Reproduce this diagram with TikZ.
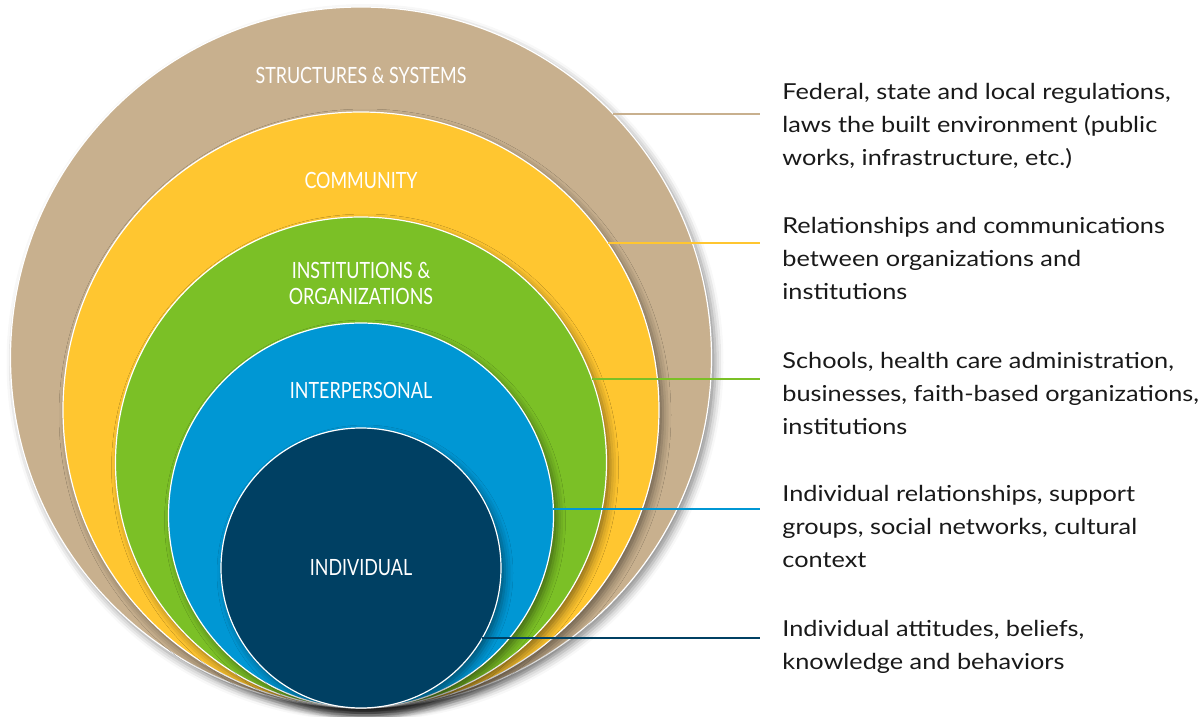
\documentclass[tikz,border=0pt]{standalone}
\usepackage{fontspec}
\setmainfont{Lato}
\newfontfamily\bandfont[FakeStretch=0.8]{Lato}
\newfontfamily\notefont[FakeStretch=1.15]{Lato}
\usetikzlibrary{positioning,shadows.blur}
\definecolor{sandtan}{RGB}{200,176,142}
\definecolor{sunyellow}{RGB}{255,198,48}
\definecolor{leafgreen}{RGB}{123,192,38}
\definecolor{skyblue}{RGB}{0,151,212}
\definecolor{deepnavy}{RGB}{0,64,99}
\tikzset{ring/.style={circle,draw=white,line width=0.6pt,inner sep=0,outer sep=0,
  blur shadow={shadow xshift=2pt,shadow yshift=-2.5pt,shadow blur radius=4pt,shadow opacity=45}}}
\tikzset{band/.style={text=white,font=\bandfont\fontsize{11.2}{13}\selectfont,align=center}}
\tikzset{note/.style={anchor=north west,align=left,inner sep=0,text=black!90,font=\notefont\fontsize{11}{16.5}\selectfont}}
\tikzset{leader/.style={line width=1pt}}

\begin{document}
\begin{tikzpicture}[x=0.5pt,y=-0.5pt]
    \useasboundingbox (0,0) rectangle (1201,717);
    % nested rings, all touching at the bottom
    \node[ring,fill=sandtan,minimum size=350.5pt] (structures) at (361,357.5) {};
    \node[ring,fill=sunyellow,minimum size=298pt] (community) at (361,410) {};
    \node[ring,fill=leafgreen,minimum size=245.5pt] (institutions) at (361,462.5) {};
    \node[ring,fill=skyblue,minimum size=192.5pt] (interpersonal) at (361,515.5) {};
    \node[ring,fill=deepnavy,minimum size=140pt] (individual) at (361,568) {};

    \node[band] (l-structures) at (361,75) {STRUCTURES \& SYSTEMS};
    \node[band] (l-community) at (361,180) {COMMUNITY};
    \node[band] (l-institutions) at (361,283) {INSTITUTIONS \&\\ORGANIZATIONS};
    \node[band] (l-interpersonal) at (361,390) {INTERPERSONAL};
    \node[band] (l-individual) at (361,568) {INDIVIDUAL};

    % leaders out to the notes
    \coordinate (rim) at (760,0);
    \draw[leader,sandtan] (structures.44.46) -- (structures.44.46 -| rim);
    \draw[leader,sunyellow] (community.34.08) -- (community.34.08 -| rim);
    \draw[leader,leafgreen] (institutions.20.88) -- (institutions.20.88 -| rim);
    \draw[leader,skyblue] (interpersonal.2.83) -- (interpersonal.2.83 -| rim);
    \draw[leader,deepnavy] (individual.-30) -- (individual.-30 -| rim);

    \node[note] (d-structures) at (782,83) {Federal, state and local regulations,\\laws the built environment (public\\works, infrastructure, etc.)};
    \node[note] (d-community) at (782,217) {Relationships and communications\\between organizations and\\institutions};
    \node[note] (d-institutions) at (782,352) {Schools, health care administration,\\businesses, faith-based organizations,\\institutions};
    \node[note] (d-interpersonal) at (782,485) {Individual relationships, support\\groups, social networks, cultural\\context};
    \node[note] (d-individual) at (782,620) {Individual attitudes, beliefs,\\knowledge and behaviors};
\end{tikzpicture}
\end{document}
